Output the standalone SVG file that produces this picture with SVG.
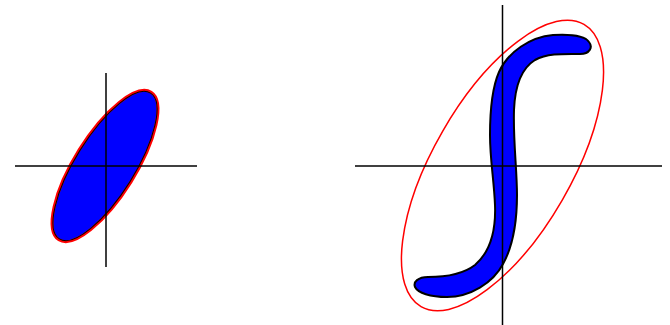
<svg xmlns="http://www.w3.org/2000/svg" width="670" height="325" viewBox="0 0 670 325">
  <style>
    .axis { stroke: #000; stroke-width: 1.5; fill: none; }
    .blob { fill: #0000ff; stroke: #000; stroke-width: 2; }
    .red { fill: none; stroke: #ff0000; }
  </style>
  <rect width="670" height="325" fill="#ffffff"/>
  <g id="left-ellipse">
    <ellipse cx="105" cy="166" rx="87" ry="30.5" transform="rotate(-58 105 166)" fill="#0000ff" stroke="#ff0000" stroke-width="3"/>
    <ellipse cx="105" cy="166" rx="86" ry="29.5" transform="rotate(-58 105 166)" fill="none" stroke="#000" stroke-width="1"/>
  </g>
  <g id="left-axes">
    <line class="axis" x1="15" y1="166" x2="197" y2="166"/>
    <line class="axis" x1="106" y1="73" x2="106" y2="267"/>
  </g>
  <g id="right-s-shape">
    <path class="blob" d="M 589,42 C 585,36 570,34 553,35 C 530,37 508,52 499,72 C 492,88 490,110 490,135 C 490,160 494,180 495,205 C 496,230 490,252 475,265 C 462,275 445,277 428,277 C 418,277 413,282 415,287 C 418,293 430,297 447,297 C 470,297 493,283 503,264 C 513,246 517,220 517,195 C 517,170 513,140 514,110 C 515,85 522,68 535,60 C 548,53 565,54 580,54 C 590,54 593,47 589,42 Z"/>
  </g>
  <g id="right-ellipse">
    <ellipse class="red" cx="502.5" cy="165.5" rx="163" ry="69" transform="rotate(-60 502.5 165.5)" stroke-width="1.5"/>
  </g>
  <g id="right-axes">
    <line class="axis" x1="355" y1="166" x2="662" y2="166"/>
    <line class="axis" x1="502.5" y1="5" x2="502.5" y2="325"/>
  </g>
</svg>
